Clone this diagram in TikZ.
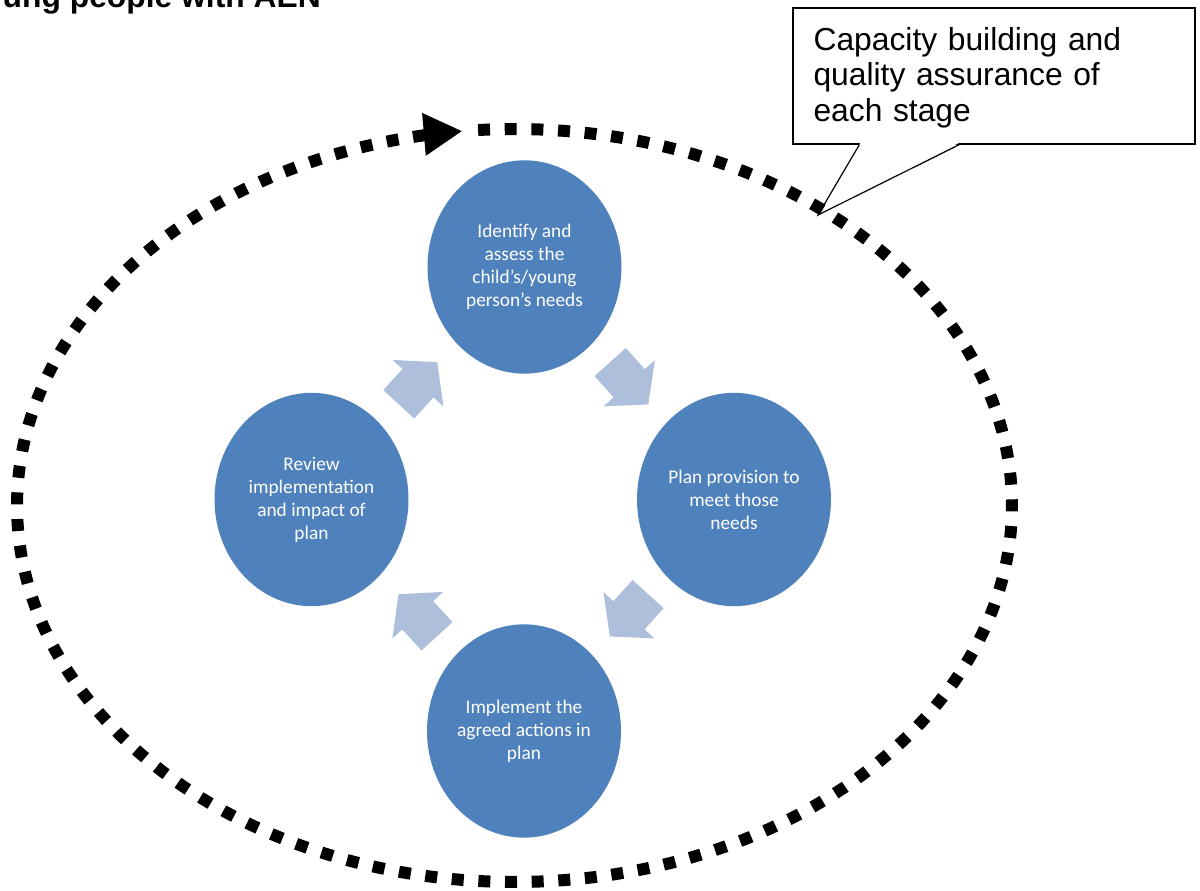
\documentclass[tikz,border=0pt]{standalone}
\usepackage{fontspec}
\newfontfamily\calfont{Carlito}
\newfontfamily\arialfont{Liberation Sans}
\usetikzlibrary{arrows.meta,shapes.geometric,calc}
\definecolor{stageblue}{HTML}{4F81BD}
\definecolor{arrowblue}{RGB}{174,191,220}
\tikzset{
  stage/.style={ellipse, fill=stageblue, text=white, align=center, inner sep=-15pt,
    minimum width=145.5pt, minimum height=160pt,
    font=\calfont\fontsize{14.5}{17.25}\selectfont},
  cyclearrow/.style={fill=arrowblue},
  dotring/.style={line width=9pt, dash pattern=on 9pt off 11pt,
    -{Triangle[length=29pt,width=30pt]}},
  calloutbox/.style={draw, line width=0.9pt, fill=white, minimum width=301.5pt,
    minimum height=102pt, text width=270.7pt, inner xsep=15.4pt, inner ysep=0pt,
    align=left, font=\arialfont\fontsize{23.85}{26.85}\selectfont},
  pointer/.style={line width=0.9pt, line join=miter},
  titletext/.style={inner sep=0pt, font=\arialfont\bfseries\fontsize{23.85}{27}\selectfont}
}
\begin{document}
\begin{tikzpicture}[x=0.75pt,y=-0.75pt]
\useasboundingbox (0,0) rectangle (1200,891);
\clip (0,0) rectangle (1200,891);

% cut-off heading
\node[titletext, anchor=base east] (title) at (321,7.3) {ung people with AEN};

% stages
\node[stage] (ident)  at (524.5,267)   {Identify and\\assess the\\child’s/young\\person’s needs};
\node[stage] (plan)   at (734,499.5)   {Plan provision to\\meet those\\needs};
\node[stage] (impl)   at (524,731)     {Implement the\\agreed actions in\\plan};
\node[stage] (review) at (311.5,499.5) {Review\\implementation\\and impact of\\plan};

% block arrows between stages
\coordinate (a1) at ($(review)!0.5!(ident)$);
\coordinate (a2) at ($(ident)!0.5!(plan)$);
\coordinate (a3) at ($(plan)!0.5!(impl)$);
\coordinate (a4) at ($(impl)!0.5!(review)$);
\foreach \c/\ang in {a1/47.5, a2/-48, a3/-132.2, a4/132.5}{
  \fill[cyclearrow, shift={(\c)}, rotate=\ang]
    (-28.5,-21) -- (0,-21) -- (0,-34.5) -- (28.5,0) -- (0,34.5) -- (0,21) -- (-28.5,21) -- cycle;
}

% callout
\node[calloutbox] (callout) at (994,76) {\rule{0pt}{19.7pt}Capacity building and\\quality assurance of\\each stage};
\coordinate (ptip) at (818,215);
\coordinate (pl) at ($(callout.south west)+(67,0)$);
\coordinate (pr) at ($(callout.south west)+(167,0)$);
\fill[white] ($(pl)+(0.8,-1.5)$) -- (ptip) -- ($(pr)+(-0.8,-1.5)$) -- cycle;
\draw[pointer] (pl) -- (ptip) -- (pr);

% dotted cycle ring
\draw[dotring] plot[domain=-94.2:264, samples=400]
  ({514.5+497.5*cos(\x)},{505.5+376.5*sin(\x)});
\end{tikzpicture}
\end{document}
